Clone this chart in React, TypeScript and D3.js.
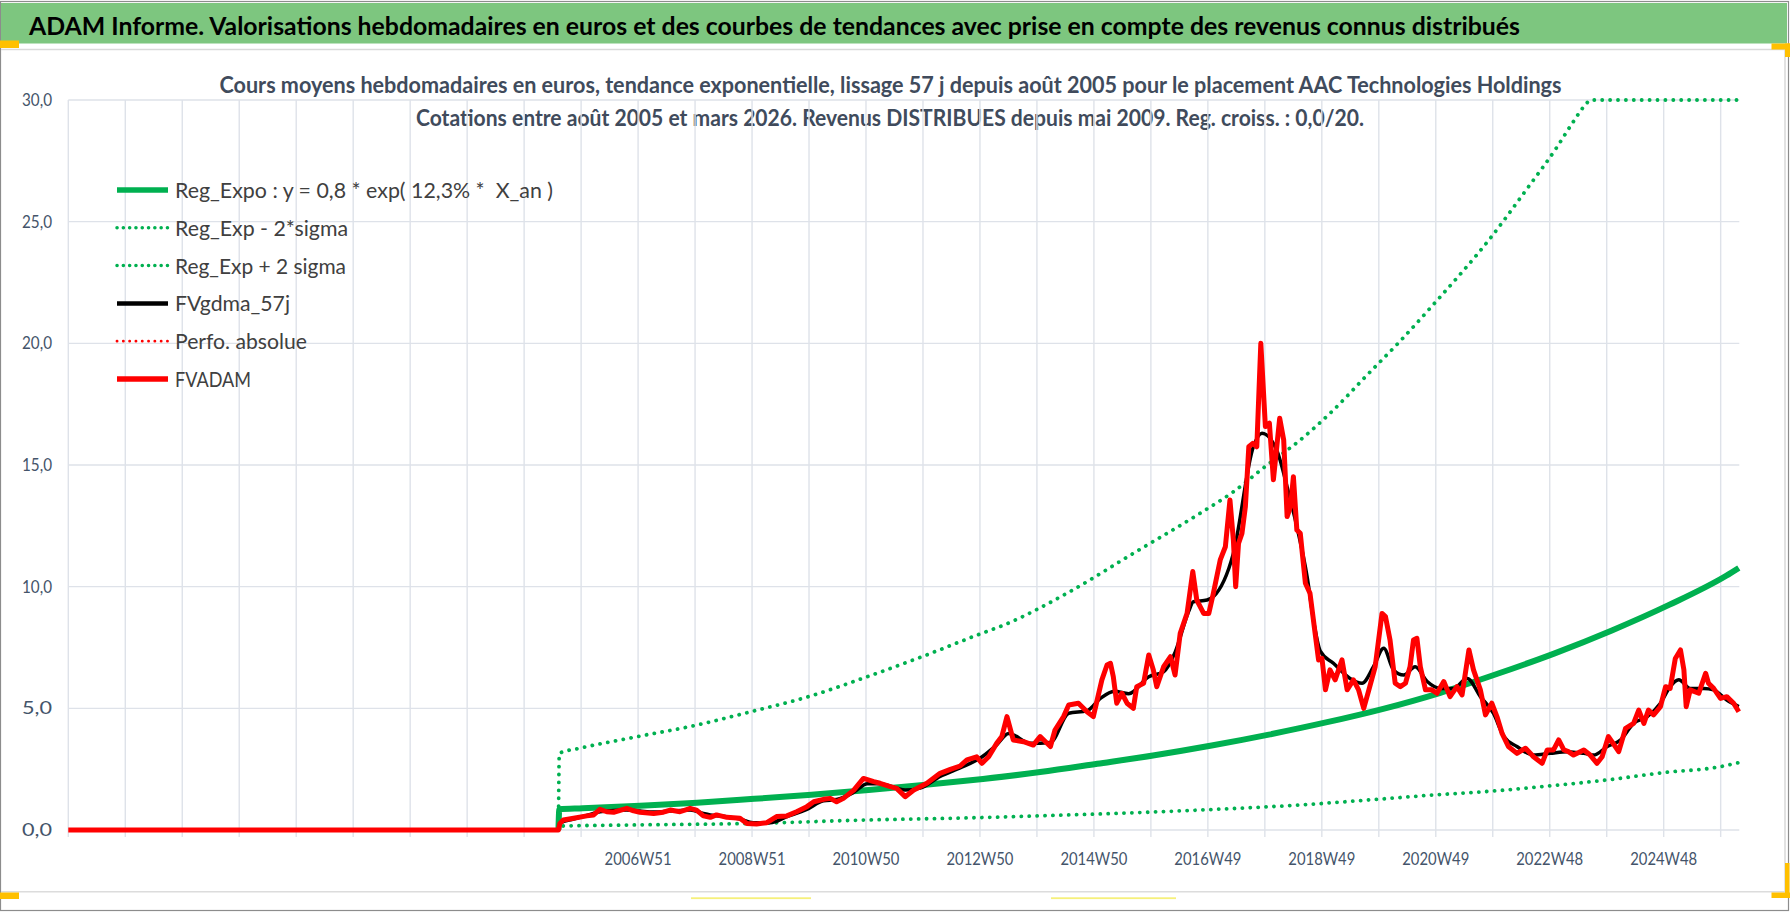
import React from 'react';
import * as d3 from 'd3';

// ---------- layout ----------
const W = 1790;
const H = 912;
const PLOT_LEFT = 68.3;
const PLOT_RIGHT = 1739.3;
const PLOT_TOP = 100;
const PLOT_BOTTOM = 830;

// ---------- axis data ----------
const N_CATEGORIES = 1526; // weekly categories
const TICK_EVERY = 52; // weeks between vertical gridlines
const FIRST_LABEL_INDEX = 520;
const LABEL_EVERY = 104;
const X_LABELS = ['2006W51', '2008W51', '2010W50', '2012W50', '2014W50', '2016W49', '2018W49', '2020W49', '2022W48', '2024W48'];
const Y_TICKS = [0, 5, 10, 15, 20, 25, 30];
const Y_MAX = 30;
const WEEKS_PER_YEAR = 52.1775;
const DATA_START = 2005.575; // all series are 0 before this date

// ---------- texts ----------
const TITLE = 'ADAM Informe. Valorisations hebdomadaires en euros et des courbes de tendances avec prise en compte des revenus connus distribués';
const SUB1 = 'Cours moyens hebdomadaires en euros, tendance exponentielle, lissage 57 j depuis août 2005 pour le placement AAC Technologies Holdings';
const SUB2 = 'Cotations entre août 2005 et mars 2026. Revenus DISTRIBUES depuis mai 2009. Reg. croiss. : 0,0/20.';

// ---------- series (decimal year, value) ----------
const FVADAM: [number, number][] = [
  [2005.60, 0.27], [2005.66, 0.41], [2005.84, 0.48], [2006.07, 0.58], [2006.19, 0.62], [2006.30, 0.85], [2006.42, 0.75],
  [2006.54, 0.73], [2006.77, 0.89], [2006.89, 0.79], [2007.00, 0.73], [2007.24, 0.68], [2007.41, 0.73], [2007.53, 0.82],
  [2007.70, 0.75], [2007.88, 0.89], [2007.99, 0.82], [2008.11, 0.58], [2008.23, 0.52], [2008.34, 0.62], [2008.52, 0.52],
  [2008.75, 0.48], [2008.87, 0.27], [2009.04, 0.25], [2009.22, 0.30], [2009.39, 0.55], [2009.57, 0.58], [2009.74, 0.75],
  [2009.92, 0.96], [2010.04, 1.16], [2010.21, 1.26], [2010.33, 1.30], [2010.44, 1.16], [2010.56, 1.30], [2010.74, 1.64],
  [2010.91, 2.12], [2011.09, 1.99], [2011.20, 1.92], [2011.38, 1.78], [2011.49, 1.71], [2011.64, 1.37], [2011.79, 1.64],
  [2011.90, 1.78], [2012.02, 1.92], [2012.25, 2.33], [2012.43, 2.49], [2012.60, 2.63], [2012.72, 2.88], [2012.89, 3.01],
  [2012.98, 2.74], [2013.10, 3.01], [2013.24, 3.56], [2013.33, 3.84], [2013.42, 4.66], [2013.53, 3.70], [2013.71, 3.63],
  [2013.88, 3.49], [2014.00, 3.84], [2014.18, 3.43], [2014.26, 4.11], [2014.41, 4.66], [2014.50, 5.14], [2014.67, 5.21],
  [2014.82, 4.86], [2014.93, 4.66], [2015.08, 6.17], [2015.17, 6.78], [2015.23, 6.85], [2015.28, 6.30], [2015.34, 5.21],
  [2015.43, 5.62], [2015.52, 5.21], [2015.63, 5.00], [2015.69, 5.89], [2015.81, 6.03], [2015.90, 7.19], [2015.98, 6.58],
  [2016.04, 5.89], [2016.16, 6.71], [2016.28, 7.12], [2016.36, 6.37], [2016.45, 8.08], [2016.57, 8.90], [2016.67, 10.62],
  [2016.74, 9.45], [2016.86, 8.90], [2016.95, 8.90], [2017.03, 9.73], [2017.15, 11.10], [2017.24, 11.64], [2017.32, 13.56],
  [2017.38, 11.92], [2017.42, 10.00], [2017.47, 11.78], [2017.53, 12.19], [2017.59, 13.29], [2017.65, 15.75], [2017.72, 15.89],
  [2017.79, 15.75], [2017.86, 20.00], [2017.94, 16.58], [2018.01, 16.72], [2018.08, 14.39], [2018.19, 16.92], [2018.26, 16.03],
  [2018.32, 12.88], [2018.38, 13.29], [2018.43, 14.52], [2018.49, 12.33], [2018.55, 12.19], [2018.64, 10.14], [2018.72, 9.73],
  [2018.81, 8.08], [2018.87, 6.99], [2018.93, 7.05], [2018.99, 5.76], [2019.07, 6.58], [2019.16, 6.17], [2019.28, 6.99],
  [2019.37, 5.76], [2019.48, 6.17], [2019.57, 5.76], [2019.66, 5.00], [2019.75, 5.76], [2019.86, 6.71], [2019.98, 8.90],
  [2020.04, 8.77], [2020.12, 7.81], [2020.21, 6.03], [2020.30, 5.89], [2020.39, 6.03], [2020.47, 6.71], [2020.53, 7.81],
  [2020.59, 7.88], [2020.65, 6.71], [2020.74, 5.76], [2020.85, 5.76], [2020.94, 5.62], [2021.06, 6.10], [2021.17, 5.48],
  [2021.29, 5.89], [2021.38, 5.55], [2021.50, 7.40], [2021.58, 6.58], [2021.70, 5.76], [2021.79, 4.73], [2021.90, 5.21],
  [2021.99, 4.66], [2022.08, 3.97], [2022.19, 3.43], [2022.34, 3.15], [2022.49, 3.36], [2022.63, 3.01], [2022.78, 2.74],
  [2022.87, 3.29], [2022.98, 3.29], [2023.07, 3.70], [2023.16, 3.29], [2023.24, 3.22], [2023.33, 3.08], [2023.51, 3.29],
  [2023.62, 3.08], [2023.74, 2.74], [2023.83, 3.01], [2023.94, 3.84], [2024.06, 3.43], [2024.12, 3.22], [2024.24, 4.18],
  [2024.38, 4.38], [2024.47, 4.93], [2024.56, 4.38], [2024.64, 4.93], [2024.73, 4.73], [2024.85, 5.07], [2024.94, 5.89],
  [2025.02, 5.82], [2025.11, 7.05], [2025.20, 7.40], [2025.26, 6.58], [2025.30, 5.07], [2025.37, 5.76], [2025.52, 5.62],
  [2025.64, 6.44], [2025.69, 6.03], [2025.78, 5.82], [2025.90, 5.41], [2026.01, 5.48], [2026.13, 5.21], [2026.22, 4.86],
];

const FVGDMA_57J: [number, number][] = [
  [2005.60, 0.28], [2005.84, 0.45], [2006.07, 0.60], [2006.30, 0.75], [2006.54, 0.80], [2006.77, 0.82], [2007.00, 0.78],
  [2007.24, 0.74], [2007.53, 0.78], [2007.88, 0.82], [2008.11, 0.68], [2008.23, 0.62], [2008.52, 0.55], [2008.75, 0.45],
  [2008.98, 0.30], [2009.28, 0.30], [2009.57, 0.55], [2009.92, 0.85], [2010.21, 1.20], [2010.44, 1.25], [2010.74, 1.55],
  [2010.98, 1.90], [2011.20, 1.90], [2011.49, 1.72], [2011.64, 1.64], [2011.90, 1.72], [2012.25, 2.20], [2012.60, 2.55],
  [2012.98, 3.00], [2013.24, 3.50], [2013.45, 3.97], [2013.83, 3.56], [2014.18, 3.60], [2014.50, 4.80], [2014.82, 4.90],
  [2015.05, 5.40], [2015.30, 5.70], [2015.55, 5.60], [2015.90, 6.30], [2016.16, 6.50], [2016.36, 7.30], [2016.60, 9.00],
  [2016.68, 9.38], [2016.92, 9.45], [2017.03, 9.59], [2017.38, 11.37], [2017.73, 15.75], [2017.88, 16.30], [2018.14, 15.60],
  [2018.32, 14.10], [2018.49, 12.47], [2018.67, 10.41], [2018.80, 8.36], [2018.90, 7.35], [2019.13, 6.85], [2019.42, 6.23],
  [2019.63, 6.03], [2019.83, 6.71], [2020.01, 7.47], [2020.18, 6.58], [2020.36, 6.37], [2020.56, 6.71], [2020.77, 6.10],
  [2021.00, 5.82], [2021.23, 5.82], [2021.47, 6.23], [2021.70, 5.48], [2021.93, 4.79], [2022.11, 3.84], [2022.34, 3.43],
  [2022.63, 3.08], [2022.92, 3.15], [2023.22, 3.22], [2023.51, 3.15], [2023.68, 3.08], [2023.92, 3.43], [2024.15, 3.70],
  [2024.38, 4.38], [2024.62, 4.66], [2024.85, 5.21], [2025.02, 5.89], [2025.17, 6.17], [2025.37, 5.82], [2025.61, 5.82],
  [2025.78, 5.76], [2026.01, 5.34], [2026.22, 5.07],
];

const REG_EXPO: [number, number][] = [
  [2005.59, 0.85], [2006.0, 0.89], [2007.0, 1.0], [2008.0, 1.12], [2009.0, 1.28], [2010.0, 1.45], [2011.0, 1.64],
  [2012.0, 1.86], [2013.0, 2.1], [2014.0, 2.38], [2015.0, 2.72], [2016.0, 3.07], [2017.0, 3.47], [2018.0, 3.92],
  [2019.0, 4.42], [2020.0, 4.98], [2021.0, 5.64], [2022.0, 6.42], [2023.0, 7.26], [2024.0, 8.2], [2025.0, 9.25],
  [2026.0, 10.45], [2026.22, 10.77],
];

const REG_MINUS_2SIGMA: [number, number][] = [
  [2005.59, 0.16], [2006.96, 0.21], [2008.94, 0.27], [2010.94, 0.41], [2012.94, 0.51], [2013.94, 0.58], [2015.05, 0.66],
  [2016.80, 0.82], [2018.55, 1.03], [2019.89, 1.26], [2020.88, 1.44], [2021.91, 1.60], [2022.90, 1.81], [2023.89, 2.05],
  [2024.91, 2.36], [2025.89, 2.60], [2026.22, 2.77],
];

const REG_PLUS_2SIGMA: [number, number][] = [
  [2005.59, 3.15], [2005.95, 3.36], [2006.96, 3.84], [2007.95, 4.29], [2008.94, 4.86], [2009.95, 5.48], [2010.94, 6.27],
  [2011.93, 7.12], [2012.94, 8.05], [2013.36, 8.42], [2014.47, 9.73], [2015.63, 11.37], [2016.80, 13.02], [2017.38, 13.9],
  [2017.97, 15.0], [2018.55, 16.03], [2019.13, 17.26], [2019.72, 18.7], [2020.30, 20.1], [2020.88, 21.6], [2021.90, 24.4],
  [2022.50, 26.3], [2023.05, 28.1], [2023.29, 28.98], [2023.55, 29.84], [2023.62, 30], [2026.22, 30],
];

const LEGEND = [
  { name: 'Reg_Expo : y = 0,8 * exp( 12,3% *  X_an )', color: '#00B050', width: 5.5, dotted: false, len: 378 },
  { name: 'Reg_Exp - 2*sigma', color: '#00B050', width: 3.5, dotted: true, len: 173 },
  { name: 'Reg_Exp + 2 sigma', color: '#00B050', width: 3.5, dotted: true, len: 171 },
  { name: 'FVgdma_57j', color: '#000000', width: 4.5, dotted: false, len: 115 },
  { name: 'Perfo. absolue', color: '#FF0000', width: 2.8, dotted: true, len: 132 },
  { name: 'FVADAM', color: '#FF0000', width: 5.5, dotted: false, len: 76 },
];

// ---------- helpers ----------
const labelTime = (s: string) => {
  const [yy, w] = s.split('W').map(Number);
  return yy + (w - 0.5) / WEEKS_PER_YEAR;
};
const T_REF = labelTime(X_LABELS[0]);
const timeToIndex = (t: number) => FIRST_LABEL_INDEX + (t - T_REF) * WEEKS_PER_YEAR;
const T_AXIS_START = T_REF - FIRST_LABEL_INDEX / WEEKS_PER_YEAR;

const x = d3.scaleLinear().domain([0, N_CATEGORIES - 1]).range([PLOT_LEFT, PLOT_RIGHT]);
const y = d3.scaleLinear().domain([0, Y_MAX]).range([PLOT_BOTTOM, PLOT_TOP]);

const withZeroLead = (data: [number, number][], fromAxisStart: boolean): [number, number][] => {
  const lead: [number, number][] = fromAxisStart ? [[T_AXIS_START, 0], [DATA_START, 0]] : [[DATA_START, 0]];
  return [...lead, ...data];
};

const lineGen = (curve: d3.CurveFactory) =>
  d3
    .line<[number, number]>()
    .x((d) => x(timeToIndex(d[0])))
    .y((d) => y(d[1]))
    .curve(curve);

const FONT = 'Lato, "Open Sans", sans-serif';
const GRID = '#DEE2E9';
const AXIS_TXT = '#44546A';

export default function App() {
  const gridIdx = d3.range(0, N_CATEGORIES, TICK_EVERY);
  const linear = lineGen(d3.curveLinear);
  const smooth = lineGen(d3.curveMonotoneX);

  const dotted = { strokeDasharray: '0.1 7.8', strokeLinecap: 'round' as const };

  return (
    <div style={{ position: 'absolute', left: 0, top: 0, width: W, height: H }}>
      <svg width={W} height={H} viewBox={`0 0 ${W} ${H}`} style={{ display: 'block', fontFamily: FONT }}>
        <rect x={0} y={0} width={W} height={H} fill="#FFFFFF" />
        {/* outer border */}
        <rect x={0.5} y={1.5} width={1788} height={909} fill="none" stroke="#8C8C8C" strokeWidth={1.2} />
        {/* title bar */}
        <rect x={1} y={3} width={1786} height={40.5} fill="#7DC67F" />
        <text x={29} y={34.5} fontSize={25.5} fontWeight={700} fill="#000" textLength={1491} lengthAdjust="spacingAndGlyphs">
          {TITLE}
        </text>
        {/* chart frame */}
        <line x1={1} x2={1785} y1={49.5} y2={49.5} stroke="#D9D9D9" strokeWidth={1.5} />
        <line x1={1785} x2={1785} y1={49.5} y2={891.7} stroke="#D9D9D9" strokeWidth={1.5} />
        <line x1={1} x2={1785} y1={891.7} y2={891.7} stroke="#DCDCDC" strokeWidth={1.5} />
        {/* selection handles */}
        <rect x={0} y={40.5} width={19} height={7.5} fill="#FFC000" />
        <rect x={1771.5} y={43.5} width={18.5} height={6} fill="#FFC000" />
        <rect x={1785} y={43.5} width={5} height={13.5} fill="#FFC000" />
        <rect x={0} y={892.5} width={19} height={6.5} fill="#FFC000" />
        <rect x={1771.5} y={892.5} width={18.5} height={5.5} fill="#FFC000" />
        <rect x={1785} y={863} width={4.5} height={35} fill="#FFC000" />
        <rect x={691} y={897.3} width={120} height={1.8} fill="#F6F07A" />
        <rect x={1051} y={897.3} width={125} height={1.8} fill="#F6F07A" />

        {/* subtitles */}
        <text x={890.5} y={93} textAnchor="middle" fontSize={23} fontWeight={700} fill="#404B5C" textLength={1342} lengthAdjust="spacingAndGlyphs">
          {SUB1}
        </text>
        <text x={890} y={125.5} textAnchor="middle" fontSize={23} fontWeight={700} fill="#404B5C" textLength={948} lengthAdjust="spacingAndGlyphs">
          {SUB2}
        </text>

        {/* gridlines */}
        {Y_TICKS.map((v) => (
          <line key={'h' + v} x1={PLOT_LEFT} x2={PLOT_RIGHT} y1={y(v)} y2={y(v)} stroke={GRID} strokeWidth={1.4} />
        ))}
        {gridIdx.map((i) => (
          <line key={'v' + i} x1={x(i)} x2={x(i)} y1={y(Y_MAX)} y2={PLOT_BOTTOM + 7} stroke={GRID} strokeWidth={1.4} />
        ))}

        {/* y tick labels */}
        {Y_TICKS.map((v) => (
          <text key={'yl' + v} x={52} y={y(v) + 6} textAnchor="end" fontSize={17.5} fill={AXIS_TXT} textLength={30} lengthAdjust="spacingAndGlyphs">
            {d3.format('.1f')(v).replace('.', ',')}
          </text>
        ))}
        {/* x tick labels */}
        {X_LABELS.map((s, k) => (
          <text key={s} x={x(FIRST_LABEL_INDEX + k * LABEL_EVERY)} y={865} textAnchor="middle" fontSize={17.5} fill={AXIS_TXT} textLength={67} lengthAdjust="spacingAndGlyphs">
            {s}
          </text>
        ))}

        {/* series */}
        <path d={smooth(withZeroLead(REG_PLUS_2SIGMA, false)) || ''} fill="none" stroke="#00B050" strokeWidth={3.8} {...dotted} />
        <path d={smooth(withZeroLead(REG_MINUS_2SIGMA, false)) || ''} fill="none" stroke="#00B050" strokeWidth={3.8} {...dotted} />
        <path d={smooth(withZeroLead(REG_EXPO, false)) || ''} fill="none" stroke="#00B050" strokeWidth={6} strokeLinejoin="round" />
        <path d={smooth(withZeroLead(FVGDMA_57J, false)) || ''} fill="none" stroke="#000000" strokeWidth={3.5} strokeLinejoin="round" />
        <path d={linear(withZeroLead(FVADAM, true)) || ''} fill="none" stroke="#FF0000" strokeWidth={5} strokeLinejoin="round" />

        {/* legend */}
        {LEGEND.map((it, k) => {
          const ly = 190 + k * 37.8;
          return (
            <g key={it.name}>
              <line
                x1={117}
                x2={168}
                y1={ly}
                y2={ly}
                stroke={it.color}
                strokeWidth={it.width}
                {...(it.dotted ? { strokeDasharray: '0.1 6.2', strokeLinecap: 'round' as const } : {})}
              />
              <text
                x={175}
                y={ly + 8}
                fontSize={21}
                fill="#404040"
                style={{ whiteSpace: 'pre' }}
                textLength={it.len}
                lengthAdjust="spacingAndGlyphs"
              >
                {it.name}
              </text>
            </g>
          );
        })}
      </svg>
    </div>
  );
}
